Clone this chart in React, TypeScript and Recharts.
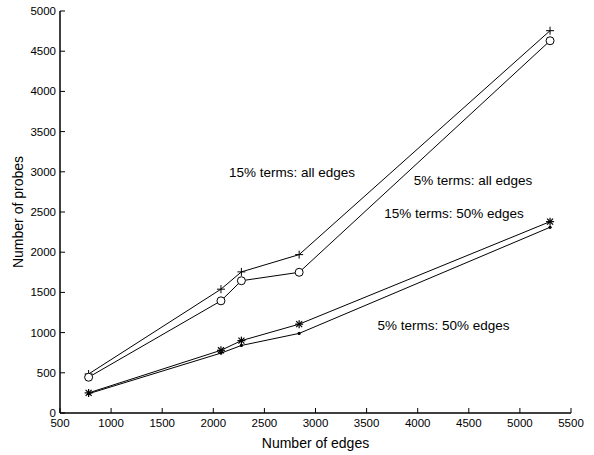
import { LineChart, Line, XAxis, YAxis, ReferenceDot } from "recharts";

const edges = [780, 2075, 2275, 2840, 5295];
const allEdges15 = [485, 1540, 1755, 1970, 4755];
const allEdges5 = [445, 1395, 1645, 1750, 4630];
const halfEdges15 = [250, 780, 900, 1105, 2380];
const halfEdges5 = [240, 745, 840, 990, 2310];

const xTicks = [500, 1000, 1500, 2000, 2500, 3000, 3500, 4000, 4500, 5000, 5500];
const yTicks = [0, 500, 1000, 1500, 2000, 2500, 3000, 3500, 4000, 4500, 5000];

const notes = [
  { x: 2770, y: 2998, text: "15% terms: all edges" },
  { x: 4541, y: 2898, text: "5% terms: all edges" },
  { x: 4355, y: 2488, text: "15% terms: 50% edges" },
  { x: 4252, y: 1095, text: "5% terms: 50% edges" },
];

const rows = edges.map((e, i) => ({
  edges: e,
  all15: allEdges15[i],
  all5: allEdges5[i],
  half15: halfEdges15[i],
  half5: halfEdges5[i],
}));

const FONT = "'Liberation Sans', Arial, Helvetica, sans-serif";
const tickStyle = { fill: "#000", fontSize: 11.5, fontFamily: FONT };

const Plus = ({ cx, cy }: any) => (
  <g stroke="#000" strokeWidth={1}>
    <line x1={cx - 4} y1={cy} x2={cx + 4} y2={cy} />
    <line x1={cx} y1={cy - 4} x2={cx} y2={cy + 4} />
  </g>
);

const Circle = ({ cx, cy }: any) => (
  <circle cx={cx} cy={cy} r={4} fill="#fff" stroke="#000" strokeWidth={1} />
);

const Star = ({ cx, cy }: any) => (
  <g stroke="#000" strokeWidth={1.2}>
    <line x1={cx - 4} y1={cy} x2={cx + 4} y2={cy} />
    <line x1={cx} y1={cy - 4} x2={cx} y2={cy + 4} />
    <line x1={cx - 3} y1={cy - 3} x2={cx + 3} y2={cy + 3} />
    <line x1={cx - 3} y1={cy + 3} x2={cx + 3} y2={cy - 3} />
  </g>
);

const Dot = ({ cx, cy }: any) => <circle cx={cx} cy={cy} r={1.6} fill="#000" />;

const marker = (Shape: any) => (p: any) => <Shape key={p.index} cx={p.cx} cy={p.cy} />;

const noLabel = () => "";

export default function App() {
  return (
    <div style={{ position: "absolute", left: 0, top: 0, background: "#fff" }}>
      <LineChart width={594} height={455} data={rows}
        margin={{ top: 11, right: 23, left: 0, bottom: 0 }}>
        <XAxis dataKey="edges" type="number" domain={[500, 5500]} ticks={xTicks}
          tick={tickStyle} tickSize={-5} tickMargin={11} height={42}
          axisLine={{ stroke: "#000", strokeWidth: 1.5 }} tickLine={{ stroke: "#000" }}
          label={{ value: "Number of edges", position: "insideBottom", offset: 7,
            style: { fill: "#000", fontSize: 14, fontFamily: FONT } }} />
        <XAxis xAxisId="top" orientation="top" dataKey="edges" type="number" domain={[500, 5500]}
          ticks={xTicks} tickFormatter={noLabel} tickSize={-5} height={0}
          axisLine={{ stroke: "#000", strokeWidth: 1.5 }} tickLine={{ stroke: "#000" }} />
        <YAxis type="number" domain={[0, 5000]} ticks={yTicks} tick={tickStyle}
          tickSize={-5} tickMargin={9} width={60}
          axisLine={{ stroke: "#000", strokeWidth: 1.5 }} tickLine={{ stroke: "#000" }}
          label={{ value: "Number of probes", angle: -90, position: "insideLeft", offset: 18,
            style: { fill: "#000", fontSize: 14, fontFamily: FONT, textAnchor: "middle" } }} />
        <YAxis yAxisId="right" orientation="right" type="number" domain={[0, 5000]} ticks={yTicks}
          tickFormatter={noLabel} tickSize={-5} width={0}
          axisLine={{ stroke: "#000", strokeWidth: 1.5 }} tickLine={{ stroke: "#000" }} />
        <Line dataKey="all15" stroke="#000" strokeWidth={1} dot={marker(Plus)} activeDot={false} isAnimationActive={false} />
        <Line dataKey="all5" stroke="#000" strokeWidth={1} dot={marker(Circle)} activeDot={false} isAnimationActive={false} />
        <Line dataKey="half15" stroke="#000" strokeWidth={1} dot={marker(Star)} activeDot={false} isAnimationActive={false} />
        <Line dataKey="half5" stroke="#000" strokeWidth={1} dot={marker(Dot)} activeDot={false} isAnimationActive={false} />
        {notes.map((n) => (
          <ReferenceDot key={n.text} x={n.x} y={n.y} r={0} ifOverflow="visible"
            label={{ value: n.text, position: "center",
              style: { fill: "#000", fontSize: 13.5, fontFamily: FONT } }} />
        ))}
      </LineChart>
    </div>
  );
}
